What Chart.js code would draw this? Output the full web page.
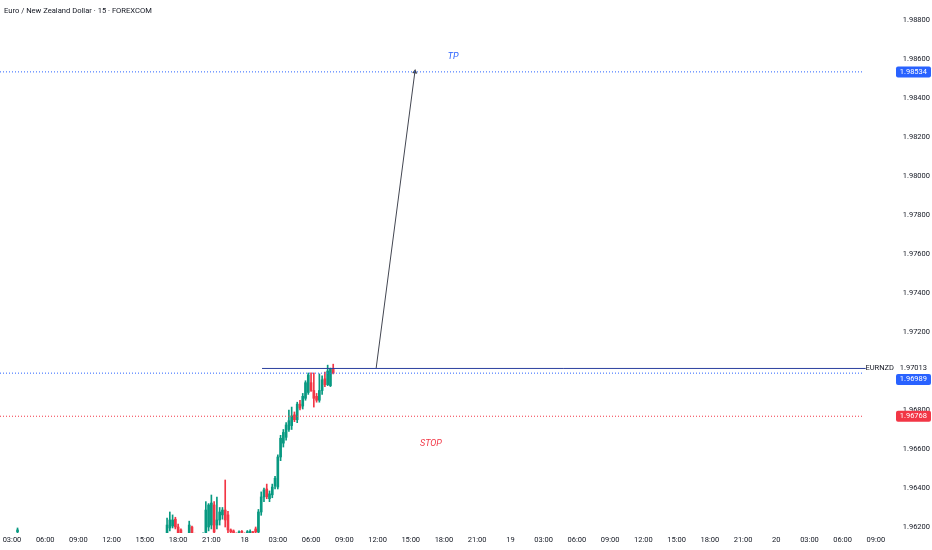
<!DOCTYPE html>
<html>
<head>
<meta charset="utf-8">
<script src="https://cdn.jsdelivr.net/npm/chart.js@4.4.1/dist/chart.umd.min.js"></script>
<style>
  html, body { margin: 0; padding: 0; background: #fff; }
  #wrap { position: relative; width: 932px; height: 550px; }
  #title { position: absolute; left: 4px; top: 6px; font: 7.6px Roboto, sans-serif; color: #131722; }
</style>
</head>
<body>
<div id="wrap">
  <canvas id="chart" width="932" height="550"></canvas>
  <div id="title">Euro / New Zealand Dollar · 15 · FOREXCOM</div>
</div>
<script>
// 15-minute slots counted from 17th 00:00
var candleSlots = [14,
  68, 69, 70, 71, 72, 73, 74, 75, 76, 77, 78, 79, 80, 81, 82, 83, 84, 85, 86, 87, 88, 89, 90, 91, 92, 93, 94, 95, 96, 97, 98, 99, 100,
  101, 102, 103, 104, 105, 106, 107, 108, 109, 110, 111, 112, 113, 114, 115, 116, 117, 118, 119, 120, 121, 122, 123, 124, 125, 126, 127, 128];
var opens = [1.96175,
  1.96160, 1.96195, 1.96205, 1.96240, 1.96200, 1.96185, 1.96160, 1.96130, 1.96160, 1.96200, 1.96165, 1.96130, 1.96140, 1.96120, 1.96170, 1.96200, 1.96210,
  1.96313, 1.96210, 1.96236, 1.96262, 1.96287, 1.96262, 1.96185, 1.96180, 1.96165, 1.96150, 1.96178, 1.96165, 1.96150, 1.96165, 1.96175, 1.96190,
  1.96174, 1.96277, 1.96354, 1.96395, 1.96345, 1.96365, 1.96410, 1.96405, 1.96559, 1.96630, 1.96660, 1.96700, 1.96720, 1.96775, 1.96750, 1.96830,
  1.96820, 1.96860, 1.96890, 1.96940, 1.96900, 1.96870, 1.96850, 1.96900, 1.96960, 1.96930, 1.96925, 1.97010];
var highs = [1.96195,
  1.96246, 1.96277, 1.96262, 1.96250, 1.96215, 1.96190, 1.96165, 1.96160, 1.96230, 1.96205, 1.96168, 1.96150, 1.96150, 1.96170, 1.96330, 1.96320, 1.96364,
  1.96330, 1.96354, 1.96300, 1.96300, 1.96441, 1.96280, 1.96190, 1.96185, 1.96170, 1.96180, 1.96182, 1.96170, 1.96182, 1.96185, 1.96178, 1.96200,
  1.96290, 1.96380, 1.96400, 1.96420, 1.96385, 1.96420, 1.96460, 1.96570, 1.96670, 1.96700, 1.96735, 1.96800, 1.96815, 1.96790, 1.96840, 1.96850,
  1.96885, 1.96950, 1.96990, 1.96990, 1.96990, 1.96885, 1.96985, 1.96975, 1.96995, 1.97030, 1.97015, 1.97035];
var lows = [1.96170,
  1.96150, 1.96180, 1.96195, 1.96190, 1.96150, 1.96140, 1.96120, 1.96120, 1.96150, 1.96150, 1.96120, 1.96110, 1.96110, 1.96110, 1.96160, 1.96180, 1.96190,
  1.96160, 1.96190, 1.96210, 1.96240, 1.96200, 1.96170, 1.96150, 1.96150, 1.96130, 1.96140, 1.96150, 1.96120, 1.96140, 1.96150, 1.96140, 1.96160,
  1.96165, 1.96260, 1.96330, 1.96345, 1.96330, 1.96350, 1.96395, 1.96395, 1.96540, 1.96610, 1.96645, 1.96690, 1.96700, 1.96740, 1.96735, 1.96800,
  1.96805, 1.96850, 1.96880, 1.96895, 1.96815, 1.96840, 1.96840, 1.96880, 1.96920, 1.96925, 1.96920, 1.96985];
var closes = [1.96185,
  1.96210, 1.96236, 1.96236, 1.96200, 1.96170, 1.96160, 1.96130, 1.96150, 1.96210, 1.96165, 1.96130, 1.96140, 1.96120, 1.96160, 1.96287, 1.96313, 1.96323,
  1.96174, 1.96236, 1.96277, 1.96287, 1.96236, 1.96185, 1.96175, 1.96165, 1.96140, 1.96175, 1.96172, 1.96140, 1.96176, 1.96178, 1.96150, 1.96175,
  1.96277, 1.96354, 1.96390, 1.96355, 1.96370, 1.96405, 1.96450, 1.96559, 1.96655, 1.96685, 1.96723, 1.96745, 1.96770, 1.96750, 1.96830, 1.96810,
  1.96870, 1.96940, 1.96980, 1.96900, 1.96860, 1.96850, 1.96900, 1.96955, 1.96930, 1.97000, 1.97010, 1.96989];

var timeTickLabels = ['03:00', '06:00', '09:00', '12:00', '15:00', '18:00', '21:00', '18',
  '03:00', '06:00', '09:00', '12:00', '15:00', '18:00', '21:00', '19',
  '03:00', '06:00', '09:00', '12:00', '15:00', '18:00', '21:00', '20',
  '03:00', '06:00', '09:00'];
var firstTickSlot = 12;
var tickStepSlots = 12;

var tpPrice = 1.98534;
var lastPrice = 1.96989;
var stopPrice = 1.96768;
var rayPrice = 1.97013;
var raySlots = [102.3, 320.3];
var dottedEndSlot = 319;
var arrowSlots = [143.5, 157.5];
var arrowPrices = [1.97013, 1.98534];

var notes = [
  { text: 'TP', slot: 171.3, price: 1.98610, color: '#2962FF' },
  { text: 'STOP', slot: 163.3, price: 1.96626, color: '#F23645' }
];
var priceTags = [
  { value: tpPrice, text: '1.98534', bg: '#2962FF', fg: '#ffffff' },
  { value: rayPrice, text: '1.97013', bg: '#ffffff', fg: '#131722', name: 'EURNZD' },
  { value: lastPrice, text: '1.96989', bg: '#2962FF', fg: '#ffffff' },
  { value: stopPrice, text: '1.96768', bg: '#F23645', fg: '#ffffff' }
];

var upColor = '#089981';
var downColor = '#F23645';
var xMin = 7.67, xMax = 342.8;

function candleColor(ctx) {
  var i = ctx.dataIndex;
  return closes[i] >= opens[i] ? upColor : downColor;
}

function hline(price, endSlot, color, dash) {
  return {
    type: 'line',
    data: [{ x: xMin, y: price }, { x: endSlot, y: price }],
    borderColor: color, borderWidth: 1, borderDash: dash,
    pointRadius: 0, order: 0
  };
}

var tagPlugin = {
  id: 'tags',
  afterDraw: function (chart) {
    var c = chart.ctx, y = chart.scales.y, x = chart.scales.x;
    c.save();
    // notes on the chart
    notes.forEach(function (n) {
      c.font = 'italic 9px Roboto, sans-serif';
      c.fillStyle = n.color;
      c.textAlign = 'center';
      c.textBaseline = 'middle';
      c.fillText(n.text, x.getPixelForValue(n.slot), y.getPixelForValue(n.price));
    });
    // price tags on the right, pushed apart when they collide
    var tags = priceTags.map(function (t) {
      return Object.assign({ py: y.getPixelForValue(t.value) }, t);
    }).sort(function (a, b) { return a.py - b.py; });
    for (var i = 1; i < tags.length; i++) {
      if (tags[i].py < tags[i - 1].py + 11) tags[i].py = tags[i - 1].py + 11;
    }
    c.font = '7.5px Roboto, sans-serif';
    tags.forEach(function (t) {
      c.fillStyle = t.bg;
      c.beginPath();
      c.roundRect(896, t.py - 5.5, 35, 11, 2);
      c.fill();
      c.fillStyle = t.fg;
      c.textAlign = 'right';
      c.textBaseline = 'middle';
      c.fillText(t.text, 927, t.py);
      if (t.name) {
        c.fillStyle = '#131722';
        c.fillText(t.name, 894, t.py);
      }
    });
    c.restore();
  }
};

Chart.defaults.font.family = 'Roboto, sans-serif';
Chart.defaults.font.size = 7.5;
Chart.defaults.color = '#131722';

new Chart(document.getElementById('chart'), {
  type: 'bar',
  data: {
    datasets: [
      {
        label: 'wicks',
        data: candleSlots.map(function (s, i) { return { x: s, y: [lows[i], highs[i]] }; }),
        backgroundColor: candleColor,
        barThickness: 1,
        grouped: false,
        order: 2
      },
      {
        label: 'bodies',
        data: candleSlots.map(function (s, i) { return { x: s, y: [opens[i], closes[i]] }; }),
        backgroundColor: candleColor,
        barThickness: 2,
        minBarLength: 1,
        grouped: false,
        order: 1
      },
      hline(tpPrice, dottedEndSlot, '#2962FF', [1, 2]),
      hline(lastPrice, dottedEndSlot, '#2962FF', [1, 2]),
      hline(stopPrice, dottedEndSlot, '#F23645', [1, 2]),
      {
        type: 'line',
        data: [{ x: raySlots[0], y: rayPrice }, { x: raySlots[1], y: rayPrice }],
        borderColor: '#2a3f9e', borderWidth: 1, pointRadius: 0, order: 0
      },
      {
        type: 'line',
        data: [{ x: arrowSlots[0], y: arrowPrices[0] }, { x: arrowSlots[1], y: arrowPrices[1] }],
        borderColor: '#434651', borderWidth: 1,
        pointRadius: [0, 3], pointStyle: 'triangle', rotation: 7.4,
        pointBackgroundColor: '#434651', pointBorderWidth: 0, order: 0
      }
    ]
  },
  options: {
    responsive: false,
    animation: false,
    layout: { padding: 0, autoPadding: false },
    plugins: { legend: { display: false }, tooltip: { enabled: false } },
    scales: {
      x: {
        type: 'linear',
        min: xMin, max: xMax,
        offset: false,
        grid: { display: false, drawTicks: false },
        border: { display: false },
        afterBuildTicks: function (scale) {
          scale.ticks = timeTickLabels.map(function (l, i) { return { value: firstTickSlot + i * tickStepSlots }; });
        },
        afterFit: function (scale) {
          scale.height = 17;
          scale.paddingLeft = 0;
          scale.paddingRight = 0;
        },
        ticks: {
          autoSkip: false, maxRotation: 0, padding: 3,
          callback: function (v, i) { return timeTickLabels[i]; }
        }
      },
      y: {
        position: 'right',
        min: 1.961692, max: 1.989026,
        grid: { display: false, drawTicks: false },
        border: { display: false },
        afterFit: function (scale) {
          scale.width = 4;
          scale.paddingTop = 0;
          scale.paddingBottom = 0;
        },
        ticks: {
          mirror: true, padding: 2, stepSize: 0.002, includeBounds: false,
          callback: function (v) { return v.toFixed(5); }
        }
      }
    }
  },
  plugins: [tagPlugin]
});
</script>
</body>
</html>
